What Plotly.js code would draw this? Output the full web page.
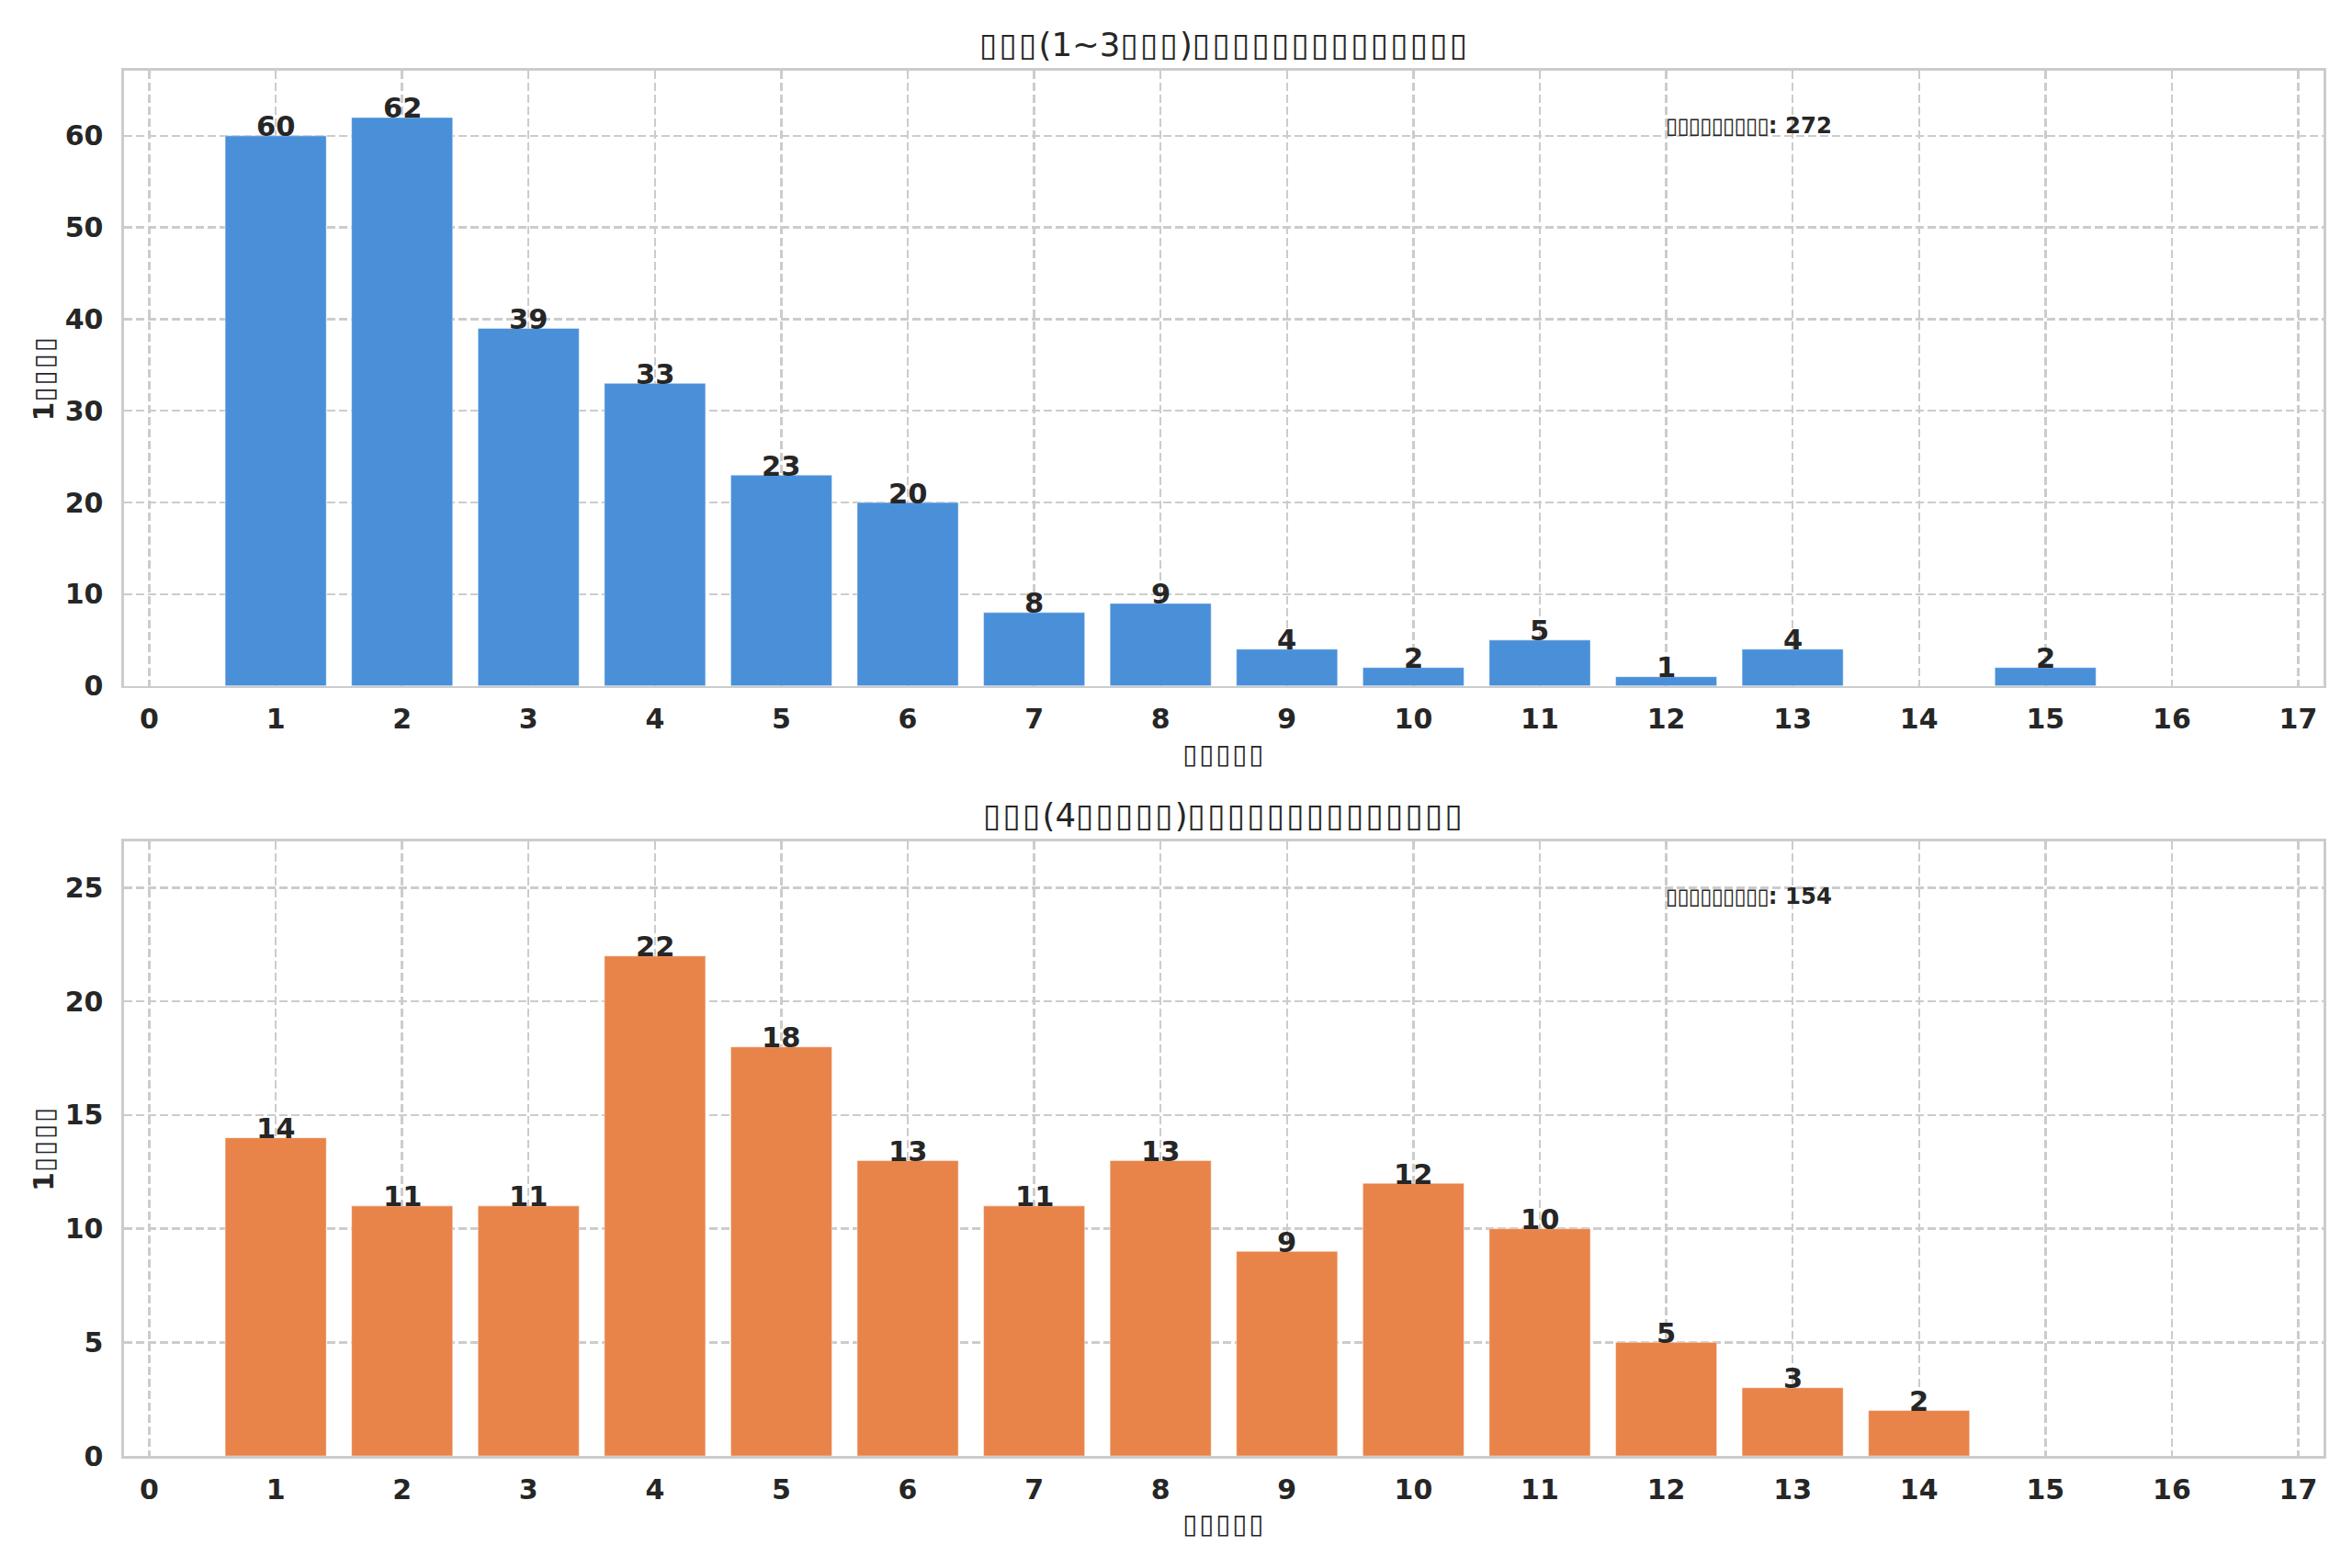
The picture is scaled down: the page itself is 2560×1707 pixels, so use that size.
<!DOCTYPE html>
<html><head><meta charset="utf-8">
<script src="https://cdn.plot.ly/plotly-3.0.1.min.js"></script>
<style>html,body{margin:0;padding:0;background:#fff}</style>
</head><body>
<div id="chart" style="width:2560px;height:1707px"></div>
<script>
// Missing-glyph boxes as rendered in the reference
const B = '\u25AF';
const boxes = (n, ls) => '<span style="letter-spacing:' + ls + 'px">' + B.repeat(n) + '</span>';

const topCategories = [1,2,3,4,5,6,7,8,9,10,11,12,13,15];
const topValues     = [60,62,39,33,23,20,8,9,4,2,5,1,4,2];
const bottomCategories = [1,2,3,4,5,6,7,8,9,10,11,12,13,14];
const bottomValues     = [14,11,11,22,18,13,11,13,9,12,10,5,3,2];
const tickValues = [0,1,2,3,4,5,6,7,8,9,10,11,12,13,14,15,16,17];
const tickLabels = tickValues.map(String);

const TS = 2.0; // spacing for title boxes
const topTitle = boxes(3,TS) + '(1~3' + boxes(3,TS) + ')' + boxes(14,TS);
const bottomTitle = boxes(3,TS) + '(4' + boxes(5,TS) + ')' + boxes(14,TS);
const xLabel = boxes(5, 1.8);
const yLabel = '<b>1</b>' + boxes(4, 1.8);
const topTotal = topValues.reduce((a,b)=>a+b,0);
const bottomTotal = bottomValues.reduce((a,b)=>a+b,0);
const totalLabel = boxes(9, -1.0);

const FONT = 'DejaVu Sans';
const TXT = '#262626';
const GRID = '#cccccc';

function bar(x, y, color, xa, ya) {
  return {
    type: 'bar', x: x, y: y, xaxis: xa, yaxis: ya,
    width: 0.8,
    marker: {color: color, line: {color: 'rgba(255,255,255,0.45)', width: 1}},
    hoverinfo: 'skip', showlegend: false
  };
}
function barLabels(x, y, xa, ya) {
  return x.map((xv, i) => ({
    xref: xa, yref: ya, x: xv, y: y[i], xanchor: 'center', yanchor: 'middle', yshift: 10,
    text: String(y[i]), showarrow: false,
    font: {family: FONT, size: 30.5, color: TXT, weight: 'bold'}
  }));
}

function xaxis(anchor) {
  return {
    anchor: anchor, domain: [0, 1],
    range: [-0.2, 17.2], tickmode: 'array', tickvals: tickValues, ticktext: tickLabels,
    showgrid: true, gridcolor: GRID, gridwidth: 2.4, griddash: '9px,4px',
    showline: true, mirror: true, linecolor: GRID, linewidth: 2.6,
    zeroline: false, ticks: '', ticklabelstandoff: 8,
    tickfont: {family: FONT, size: 30, color: TXT, weight: 'bold'},
    title: {text: xLabel, standoff: 11, font: {family: FONT, size: 29.5, color: TXT}}
  };
}
function yaxis(domain, anchor, range, dtick) {
  return {
    anchor: anchor, domain: domain, range: range, dtick: dtick, tick0: 0,
    showgrid: true, gridcolor: GRID, gridwidth: 2.4, griddash: '9px,4px',
    showline: true, mirror: true, linecolor: GRID, linewidth: 2.6,
    zeroline: false, ticks: '', ticklabelstandoff: 14,
    tickfont: {family: FONT, size: 30, color: TXT, weight: 'bold'},
    title: {text: yLabel, standoff: 4, font: {family: FONT, size: 29.5, color: TXT}}
  };
}

const data = [
  bar(topCategories, topValues, '#4a90d9', 'x', 'y'),
  bar(bottomCategories, bottomValues, '#e8844a', 'x2', 'y2')
];

const layout = {
  width: 2560, height: 1707,
  paper_bgcolor: '#ffffff', plot_bgcolor: '#ffffff',
  margin: {l: 135, r: 31, t: 77, b: 122},
  bargap: 0.2,
  font: {family: FONT, color: TXT},
  xaxis: xaxis('y'),
  yaxis: yaxis([0.5559, 1], 'x', [0, 67.1], 10),
  xaxis2: xaxis('y2'),
  yaxis2: yaxis([0, 0.4436], 'x2', [0, 27.04], 5),
  annotations: [
    {xref: 'x domain', yref: 'y domain', x: 0.5, y: 1, yshift: 29, xanchor: 'center', yanchor: 'middle',
     text: topTitle, showarrow: false, font: {family: FONT, size: 35.5, color: TXT}},
    {xref: 'x2 domain', yref: 'y2 domain', x: 0.5, y: 1, yshift: 29, xanchor: 'center', yanchor: 'middle',
     text: bottomTitle, showarrow: false, font: {family: FONT, size: 35.5, color: TXT}},
    {xref: 'x domain', yref: 'y domain', x: 0.7, y: 0.911, xanchor: 'left', yanchor: 'middle',
     text: totalLabel + ': ' + topTotal, showarrow: false, font: {family: FONT, size: 24.4, color: TXT, weight: 'bold'}},
    {xref: 'x2 domain', yref: 'y2 domain', x: 0.7, y: 0.911, xanchor: 'left', yanchor: 'middle',
     text: totalLabel + ': ' + bottomTotal, showarrow: false, font: {family: FONT, size: 24.4, color: TXT, weight: 'bold'}}
  ].concat(barLabels(topCategories, topValues, 'x', 'y'))
   .concat(barLabels(bottomCategories, bottomValues, 'x2', 'y2'))
};

Plotly.newPlot('chart', data, layout, {displayModeBar: false, staticPlot: true});
</script>
</body></html>
